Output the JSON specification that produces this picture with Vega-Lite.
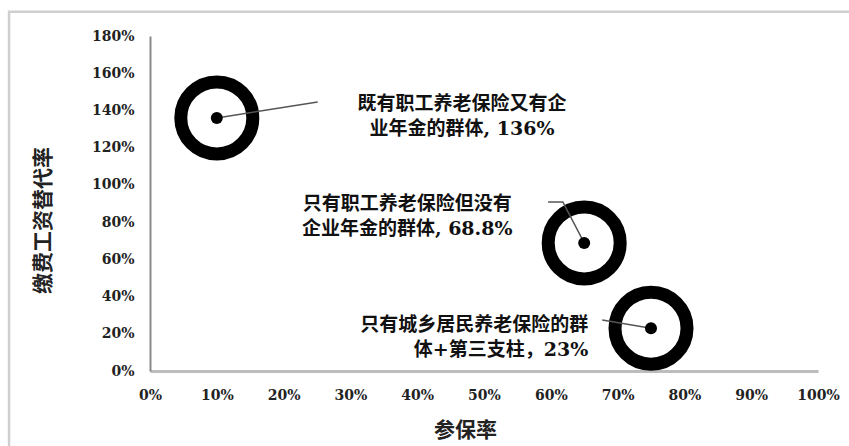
{
  "$schema": "https://vega.github.io/schema/vega-lite/v6.json",
  "autosize": "none",
  "width": 668,
  "height": 335,
  "padding": {"left": 150, "top": 36, "right": 31, "bottom": 75},
  "background": "white",
  "config": {"view": {"stroke": null}, "axis": {"labelOverlap": false, "labelFlush": false, "labelSeparation": 0}, "axisY": {"labelOverlap": false, "tickCount": 10}},
  "datasets": {
    "pts": [
      {"group": "既有职工养老保险又有企业年金的群体", "rate": 0.10, "repl": 1.36},
      {"group": "只有职工养老保险但没有企业年金的群体", "rate": 0.65, "repl": 0.688},
      {"group": "只有城乡居民养老保险的群体+第三支柱", "rate": 0.75, "repl": 0.23}
    ],
    "leaders": [
      {"id": 1, "k": 0, "rate": 0.10, "repl": 1.36},
      {"id": 1, "k": 1, "rate": 0.251, "repl": 1.445},
      {"id": 2, "k": 0, "rate": 0.65, "repl": 0.688},
      {"id": 2, "k": 1, "rate": 0.618, "repl": 0.908},
      {"id": 2, "k": 2, "rate": 0.596, "repl": 0.908},
      {"id": 3, "k": 0, "rate": 0.75, "repl": 0.23},
      {"id": 3, "k": 1, "rate": 0.677, "repl": 0.274}
    ],
    "labels": [
      {"lines": ["既有职工养老保险又有企", "业年金的群体, 136%"], "rate": 0.467, "repl": 1.437},
      {"lines": ["只有职工养老保险但没有", "企业年金的群体, 68.8%"], "rate": 0.385, "repl": 0.897}
    ],
    "labels2": [
      {"lines": ["只有城乡居民养老保险的群", "体+第三支柱，23%"], "rate": 0.656, "repl": 0.247}
    ]
  },
  "layer": [
    {
      "data": {"name": "pts"},
      "mark": {"type": "point", "shape": "circle", "filled": false, "stroke": "black", "strokeWidth": 13, "size": 5184, "opacity": 1},
      "encoding": {
        "x": {"field": "rate", "type": "quantitative", "title": "参保率",
          "scale": {"domain": [0, 1], "nice": false},
          "axis": {"format": "%", "values": [0,0.1,0.2,0.3,0.4,0.5,0.6,0.7,0.8,0.9,1], "grid": false, "ticks": false,
            "domainColor": "#bdbdbd", "domainWidth": 3, "labelPadding": 17,
            "labelFont": "DejaVu Serif", "labelFontWeight": "bold", "labelFontSize": 14, "labelColor": "#222222",
            "titleFont": "Noto Sans CJK SC", "titleFontWeight": "bold", "titleFontSize": 21, "titleColor": "#222222",
            "titleX": 315, "titleY": 59, "titleBaseline": "middle", "titleAnchor": "middle"}
        },
        "y": {"field": "repl", "type": "quantitative", "title": "缴费工资替代率",
          "scale": {"domain": [0, 1.8], "nice": false, "zero": true},
          "axis": {"format": ".0%", "values": [0,0.2,0.4,0.6,0.8,1,1.2,1.4,1.6,1.8], "grid": false, "ticks": false,
            "domainColor": "#8a8a8a", "domainWidth": 2, "labelPadding": 16,
            "labelFont": "DejaVu Serif", "labelFontWeight": "bold", "labelFontSize": 14, "labelColor": "#222222",
            "titleFont": "Noto Sans CJK SC", "titleFontWeight": "bold", "titleFontSize": 21, "titleColor": "#222222",
            "titleAngle": -90, "titleX": -107, "titleY": 184, "titleBaseline": "middle", "titleAnchor": "middle"}
        }
      }
    },
    {
      "data": {"name": "leaders"},
      "mark": {"type": "line", "color": "#555555", "strokeWidth": 1.5},
      "encoding": {
        "x": {"field": "rate", "type": "quantitative"},
        "y": {"field": "repl", "type": "quantitative"},
        "detail": {"field": "id"},
        "order": {"field": "k"}
      }
    },
    {
      "data": {"name": "pts"},
      "mark": {"type": "circle", "color": "black", "size": 144, "opacity": 1},
      "encoding": {
        "x": {"field": "rate", "type": "quantitative"},
        "y": {"field": "repl", "type": "quantitative"}
      }
    },
    {
      "data": {"name": "labels"},
      "mark": {"type": "text", "align": "center", "baseline": "middle", "font": "'DejaVu Serif', 'Noto Sans CJK SC'", "fontWeight": "bold", "fontSize": 19, "lineHeight": 25, "color": "#111111"},
      "encoding": {
        "x": {"field": "rate", "type": "quantitative"},
        "y": {"field": "repl", "type": "quantitative"},
        "text": {"field": "lines"}
      }
    },
    {
      "data": {"name": "labels2"},
      "mark": {"type": "text", "align": "right", "baseline": "middle", "font": "'DejaVu Serif', 'Noto Sans CJK SC'", "fontWeight": "bold", "fontSize": 19, "lineHeight": 25, "color": "#111111"},
      "encoding": {
        "x": {"field": "rate", "type": "quantitative"},
        "y": {"field": "repl", "type": "quantitative"},
        "text": {"field": "lines"}
      }
    },
    {
      "data": {"values": [{}]},
      "mark": {"type": "rect", "filled": false, "color": "#cfcfcf", "strokeWidth": 2.5, "clip": false},
      "encoding": {
        "x": {"datum": -0.211, "type": "quantitative"},
        "x2": {"datum": 1.4},
        "y": {"datum": 1.93, "type": "quantitative"},
        "y2": {"datum": -0.6}
      }
    }
  ]
}
